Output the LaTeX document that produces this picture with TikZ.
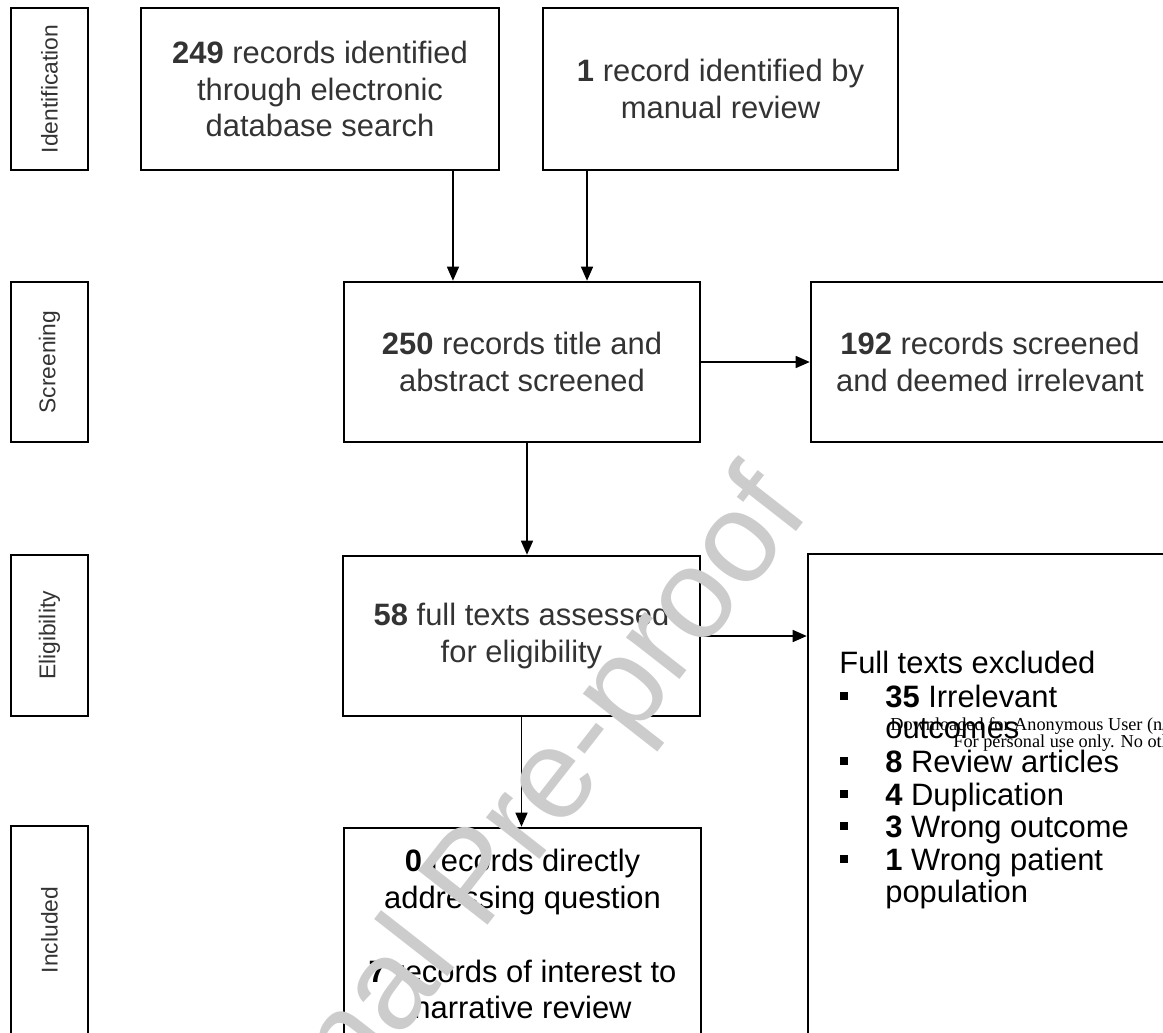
\documentclass[tikz,border=0pt]{standalone}
\usepackage{fontspec}
\setmainfont{Liberation Sans}
\newfontfamily\stampfont{Liberation Serif}
\usetikzlibrary{arrows.meta, positioning, calc}

\begin{document}
\begin{tikzpicture}[x=0.02cm, y=-0.02cm,
  every node/.style={inner sep=0pt},
  phase/.style={draw, line width=1.5pt, rotate=90, minimum height=1.54cm, text=black!80, font=\fontsize{13}{15}\selectfont},
  stagebox/.style={draw, line width=1.5pt, align=center, text=black!80, font=\fontsize{17.6}{21}\selectfont},
  listline/.style={anchor=base west, font=\fontsize{17.6}{21}\selectfont},
  arr/.style={line width=0.8pt, -{Triangle[length=0.28cm, width=0.24cm]}},
  wmark/.style={text=black!20, font=\fontsize{73}{73}\selectfont},
  stamp/.style={anchor=base west, font=\stampfont\fontsize{10.4}{12}\selectfont}]
  \useasboundingbox (0,0) rectangle (1163,1032);
  \clip (0,0) rectangle (1163,1032);

  % phase labels on the left
  \node[phase, minimum width=3.24cm] (idf) at (49.5,89) {Identification};
  \node[phase, minimum width=3.2cm] (scr) at (49.5,362) {Screening};
  \node[phase, minimum width=3.22cm] (elg) at (49.5,635.5) {Eligibility};
  \node[phase, minimum width=4.16cm] (inc) at (49.5,930) {Included};

  % flow boxes
  \node[stagebox, minimum width=7.16cm, minimum height=3.24cm] (b249) at (320,89)
    {\textbf{249} records identified\\through electronic\\database search};
  \node[stagebox, minimum width=7.1cm, minimum height=3.24cm] (b1) at (720.5,89)
    {\textbf{1} record identified by\\manual review};
  \node[stagebox, minimum width=7.12cm, minimum height=3.2cm] (b250) at (522,362)
    {\textbf{250} records title and\\abstract screened};
  \node[stagebox, minimum width=7.16cm, minimum height=3.2cm] (b192) at (990,362)
    {\textbf{192} records screened\\and deemed irrelevant};
  \node[stagebox, minimum width=7.14cm, minimum height=3.2cm] (b58) at (521.5,636)
    {\textbf{58} full texts assessed\\for eligibility};
  \node[stagebox, minimum width=7.34cm, minimum height=9.72cm] (bExcl) at (991.5,797) {};
  \node[stagebox, text=black, minimum width=7.14cm, minimum height=4.24cm] (bIncl) at (522.5,934)
    {\textbf{0} records directly\\addressing question\\[0.74cm]\textbf{7} records of interest to\\narrative review};

  % excluded list
  \node[listline] (ex0) at (839,673) {Full texts excluded};
  \node[listline] (ex1) at (840,707) {\makebox[0.9cm][l]{\rule[0.14cm]{0.16cm}{0.16cm}}\textbf{35} Irrelevant};
  \node[listline] (ex2) at (885,738) {outcomes};
  \node[listline] (ex3) at (840,772) {\makebox[0.9cm][l]{\rule[0.14cm]{0.16cm}{0.16cm}}\textbf{8} Review articles};
  \node[listline] (ex4) at (840,805) {\makebox[0.9cm][l]{\rule[0.14cm]{0.16cm}{0.16cm}}\textbf{4} Duplication};
  \node[listline] (ex5) at (840,837) {\makebox[0.9cm][l]{\rule[0.14cm]{0.16cm}{0.16cm}}\textbf{3} Wrong outcome};
  \node[listline] (ex6) at (840,870) {\makebox[0.9cm][l]{\rule[0.14cm]{0.16cm}{0.16cm}}\textbf{1} Wrong patient};
  \node[listline] (ex7) at (885,902) {population};

  % arrows
  \draw[arr] ([xshift=2.66cm]b249.south) -- ([xshift=2.66cm]b249.south |- b250.north);
  \draw[arr] ([xshift=-2.67cm]b1.south) -- ([xshift=-2.67cm]b1.south |- b250.north);
  \draw[arr] (b250.east) -- (b192.west);
  \draw[arr] ([xshift=0.1cm]b250.south) -- ([xshift=0.1cm]b250.south |- b58.north);
  \draw[arr] (b58.east) -- (b58.east -| bExcl.west);
  \draw[arr] (b58.south) -- (b58.south |- bIncl.north);

  % watermark and stamp
  \node[wmark, rotate=52] (wm) at (480,882) {Journal Pre-proof};
  \node[stamp] (dl1) at (890,730) {Downloaded for Anonymous User (n/a)};
  \node[stamp] (dl2) at (953,747) {For personal use only. No other uses};
\end{tikzpicture}
\end{document}
